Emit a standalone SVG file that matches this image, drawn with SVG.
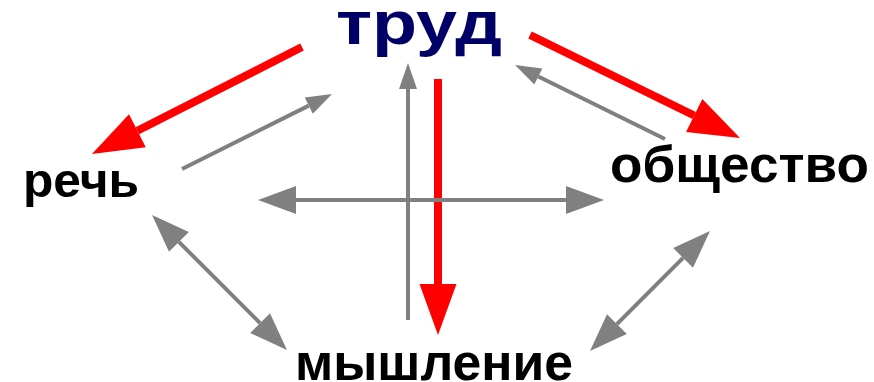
<svg xmlns="http://www.w3.org/2000/svg" width="874" height="382" viewBox="0 0 874 382">
<style>
.lbl{font-family:"Liberation Sans",Arial,sans-serif;font-weight:bold;fill:#000}
.main{fill:#000066}
.red{stroke:#FF0000;stroke-width:8;fill:none;marker-end:url(#hr)}
.g1{stroke:#808080;stroke-width:4;fill:none;marker-end:url(#hs)}
.g2{stroke:#808080;stroke-width:4;fill:none;marker-start:url(#hb);marker-end:url(#hb)}
</style>
<defs>
<marker id="hr" markerUnits="userSpaceOnUse" viewBox="0 -19 51 38" refX="0" refY="0" markerWidth="51" markerHeight="38" orient="auto" overflow="visible"><path d="M0,-18.5 L51,0 L0,18.5 Z" fill="#FF0000"/></marker>
<marker id="hs" markerUnits="userSpaceOnUse" viewBox="0 -9 26 18" refX="0" refY="0" markerWidth="26" markerHeight="18" orient="auto" overflow="visible"><path d="M0,-9 L26,0 L0,9 Z" fill="#808080"/></marker>
<marker id="hb" markerUnits="userSpaceOnUse" viewBox="0 -14 38 28" refX="0" refY="0" markerWidth="38" markerHeight="28" orient="auto-start-reverse" overflow="visible"><path d="M0,-14 L38,0 L0,14 Z" fill="#808080"/></marker>
</defs>
<g id="connectors">
<line class="red" x1="302" y1="47" x2="137.4" y2="130.8"/>
<line class="red" x1="530" y1="35" x2="694.2" y2="115.5"/>
<line class="red" x1="438" y1="79" x2="438" y2="284"/>
<line class="g1" x1="408" y1="320" x2="408" y2="89"/>
<line class="g2" x1="296" y1="200" x2="566" y2="200"/>
<line class="g1" x1="182" y1="169" x2="308.8" y2="105.6"/>
<line class="g1" x1="665" y1="139" x2="538.3" y2="76.5"/>
<line class="g2" x1="178.9" y1="241.9" x2="260.1" y2="323.1"/>
<line class="g2" x1="683.1" y1="257.9" x2="616.9" y2="324.1"/>
</g>
<g id="trud"><text class="lbl main" x="336" y="44" font-size="61" textLength="166" lengthAdjust="spacingAndGlyphs">труд</text></g>
<g id="rech"><text class="lbl" x="23" y="197" font-size="48" textLength="116" lengthAdjust="spacingAndGlyphs">речь</text></g>
<g id="obshchestvo"><text class="lbl" x="610" y="182" font-size="52" textLength="259" lengthAdjust="spacingAndGlyphs">общество</text></g>
<g id="myshlenie"><text class="lbl" x="295" y="380" font-size="52" textLength="278" lengthAdjust="spacingAndGlyphs">мышление</text></g>
</svg>
